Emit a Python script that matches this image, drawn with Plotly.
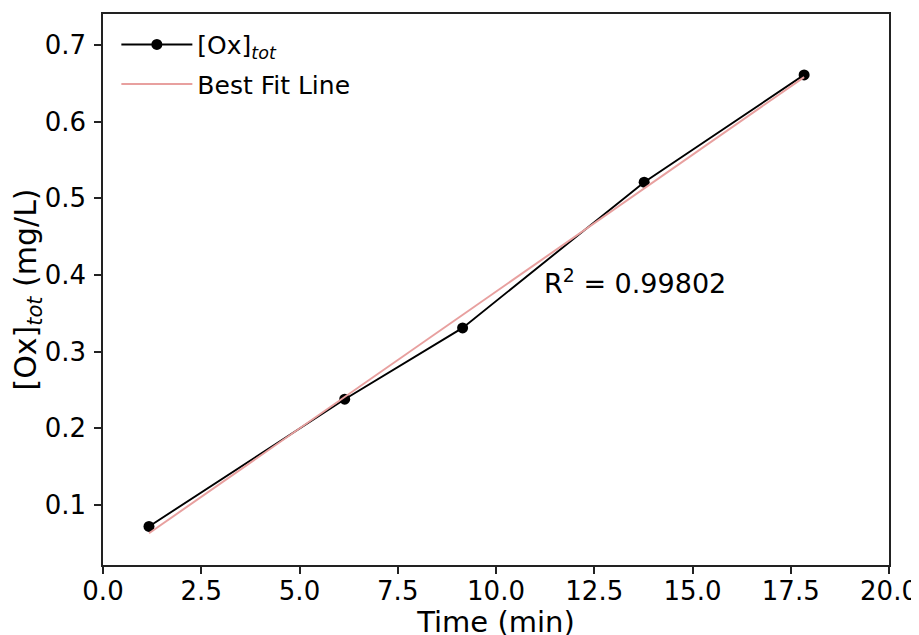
import numpy as np
import plotly.graph_objects as go

time_min = [1.17, 6.15, 9.15, 13.77, 17.84]
ox_tot = [0.072, 0.238, 0.331, 0.521, 0.661]
r_squared_label = "R<sup>2</sup> = 0.99802"
x_ticks = [0, 2.5, 5, 7.5, 10, 12.5, 15, 17.5, 20]
y_ticks = [0.1, 0.2, 0.3, 0.4, 0.5, 0.6, 0.7]

slope, intercept = np.polyfit(time_min, ox_tot, 1)
fit_y = [slope * x + intercept for x in time_min]

FONT = "DejaVu Sans"

fig = go.Figure()
fig.add_trace(go.Scatter(
    x=time_min, y=ox_tot, mode="lines+markers",
    name="[Ox]<sub><i>tot</i></sub>", legendgroup="a",
    line=dict(color="black", width=1.9),
    marker=dict(color="black", size=11),
))
fig.add_trace(go.Scatter(
    x=time_min, y=fit_y, mode="lines",
    name="Best Fit Line", legendgroup="b",
    line=dict(color="#e8a09f", width=2),
))

fig.add_annotation(
    x=11.18, y=0.391, xref="x", yref="y", text=r_squared_label,
    showarrow=False, xanchor="left", yanchor="middle",
    font=dict(family=FONT, size=27, color="black"),
)

axis_common = dict(
    showline=True, linecolor="#222222", linewidth=1.5, mirror=True,
    ticks="outside", ticklen=7, tickwidth=1.5, tickcolor="#222222",
    showgrid=False, zeroline=False, automargin=False,
    tickfont=dict(family=FONT, size=26, color="black"),
)

fig.update_layout(
    width=911, height=631,
    margin=dict(l=95, r=30, t=6, b=74),
    paper_bgcolor="white", plot_bgcolor="white",
    font=dict(family=FONT, color="black"),
    showlegend=True,
    legend=dict(
        x=0.017, y=0.986, xanchor="left", yanchor="top",
        bgcolor="rgba(0,0,0,0)", borderwidth=0,
        font=dict(family=FONT, size=25, color="black"),
        tracegroupgap=4, itemwidth=71,
    ),
    xaxis=dict(
        range=[0, 20], tickvals=x_ticks, tickformat=".1f",
        ticklabelstandoff=-5,
        title=dict(text="Time (min)", font=dict(family=FONT, size=29), standoff=16),
        **axis_common,
    ),
    yaxis=dict(
        range=[0.02174, 0.7404], tickvals=y_ticks, tickformat=".1f",
        ticklabelstandoff=3,
        title=dict(text="[Ox]<sub><i>tot</i></sub> (mg/L)", font=dict(family=FONT, size=30), standoff=0),
        **axis_common,
    ),
)

fig.write_html("out.html")
